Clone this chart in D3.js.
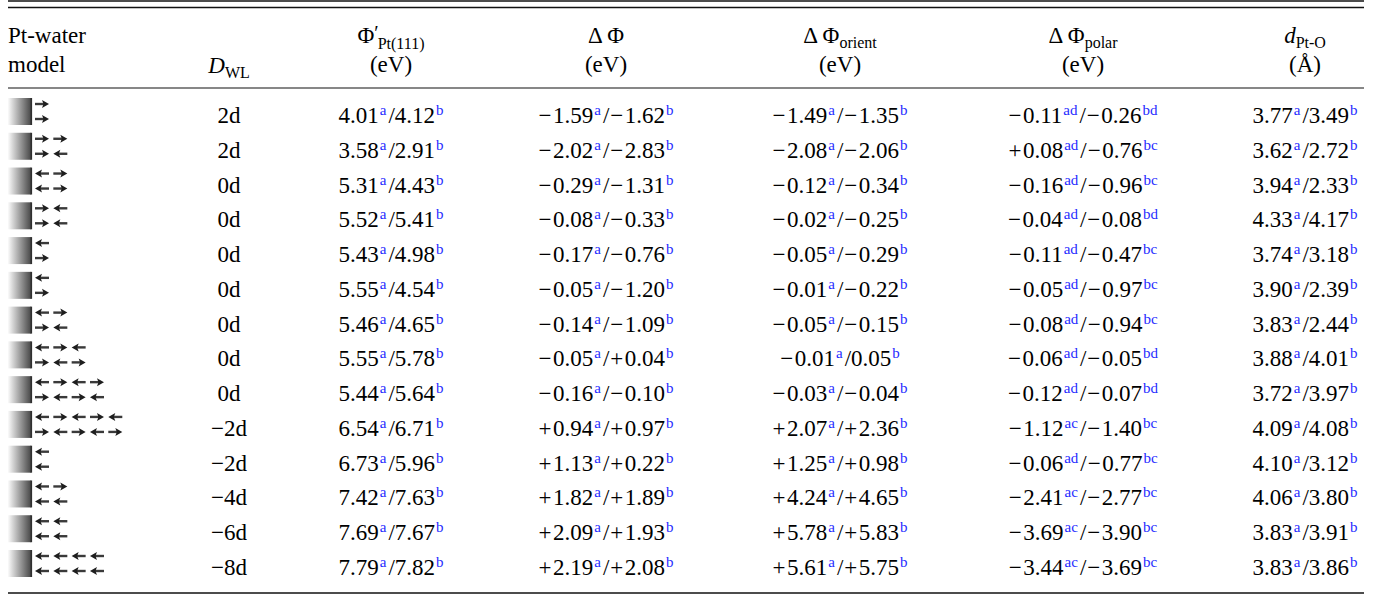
<!DOCTYPE html>
<html>
<head>
<meta charset="utf-8">
<script src="https://cdn.jsdelivr.net/npm/d3@7"></script>
<style>
  body { margin: 0; background: #fff; }
  svg text { font-family: "Liberation Serif", "Times New Roman", serif; fill: #000; }
</style>
</head>
<body>
<svg id="tbl" width="1378" height="595"></svg>
<script>
// ---- data ----
// arrow rows of each Pt-water model icon: 1 = right, -1 = left
const arrowsTop = [[1],[1,1],[-1,1],[1,-1],[-1],[-1],[-1,1],[-1,1,-1],[-1,1,-1,1],[-1,1,-1,1,-1],[-1],[-1,1],[-1,-1],[-1,-1,-1,-1]]
const arrowsBottom = [[1],[1,-1],[-1,1],[1,-1],[1],[1],[1,-1],[1,-1,1],[1,-1,1,-1],[1,-1,1,-1,1],[-1],[-1,-1],[-1,-1],[-1,-1,-1,-1]]
const dwl = ["2d","2d","0d","0d","0d","0d","0d","0d","0d","\u22122d","\u22122d","\u22124d","\u22126d","\u22128d"]
const phiA = [4.01,3.58,5.31,5.52,5.43,5.55,5.46,5.55,5.44,6.54,6.73,7.42,7.69,7.79]
const phiB = [4.12,2.91,4.43,5.41,4.98,4.54,4.65,5.78,5.64,6.71,5.96,7.63,7.67,7.82]
const dPhiA = [-1.59,-2.02,-0.29,-0.08,-0.17,-0.05,-0.14,-0.05,-0.16,0.94,1.13,1.82,2.09,2.19]
const dPhiB = [-1.62,-2.83,-1.31,-0.33,-0.76,-1.20,-1.09,0.04,-0.10,0.97,0.22,1.89,1.93,2.08]
const orientA = [-1.49,-2.08,-0.12,-0.02,-0.05,-0.01,-0.05,-0.01,-0.03,2.07,1.25,4.24,5.78,5.61]
const orientB = [-1.35,-2.06,-0.34,-0.25,-0.29,-0.22,-0.15,0.05,-0.04,2.36,0.98,4.65,5.83,5.75]
const orientUnsignedB = [7]
const polarA = [-0.11,0.08,-0.16,-0.04,-0.11,-0.05,-0.08,-0.06,-0.12,-1.12,-0.06,-2.41,-3.69,-3.44]
const polarB = [-0.26,-0.76,-0.96,-0.08,-0.47,-0.97,-0.94,-0.05,-0.07,-1.40,-0.77,-2.77,-3.90,-3.69]
const polarNoteA = ["ad","ad","ad","ad","ad","ad","ad","ad","ad","ac","ad","ac","ac","ac"]
const polarNoteB = ["bd","bc","bc","bd","bc","bc","bc","bd","bd","bc","bc","bc","bc","bc"]
const dPtOA = [3.77,3.62,3.94,4.33,3.74,3.90,3.83,3.88,3.72,4.09,4.10,4.06,3.83,3.83]
const dPtOB = [3.49,2.72,2.33,4.17,3.18,2.39,2.44,4.01,3.97,4.08,3.12,3.80,3.91,3.86]

const svg = d3.select("#tbl")
const FS = 23, SUB = 16, SUP = 15
const blue = "#1f2bff"
const nRows = dwl.length

const y = d3.scaleLinear().domain([0, nRows - 1]).range([123, 575])
const colX = d3.scaleOrdinal()
  .domain(["dwl","phi","dphi","orient","polar","dpto"])
  .range([229, 391, 606, 840, 1083, 1305])
const arrowX = d3.scaleLinear().domain([0, 4]).range([35, 108.3])

const fmt = d3.format(".2f"), fmtS = d3.format("+.2f")

// rules
const rules = [{y: 1, w: 1.3}, {y: 7.5, w: 1.3}, {y: 88, w: 1.1}, {y: 593, w: 1.3}]
svg.selectAll("line.rule").data(rules).join("line")
  .attr("class", "rule")
  .attr("x1", 8).attr("x2", 1364)
  .attr("y1", d => d.y).attr("y2", d => d.y)
  .attr("stroke", "#111").attr("stroke-width", d => d.w)

// header
function header(x, yy, parts, anchor) {
  const t = svg.append("text").attr("x", x).attr("y", yy)
    .attr("text-anchor", anchor || "middle").style("font-size", FS + "px")
  parts.forEach(p => {
    const s = t.append("tspan").text(p.t)
    if (p.size) s.style("font-size", p.size + "px")
    if (p.dy) s.attr("dy", p.dy)
    if (p.dx) s.attr("dx", p.dx)
    if (p.it) s.style("font-style", "italic")
  })
}
header(8, 43, [{t: "Pt-water"}], "start")
header(8, 72, [{t: "model"}], "start")
header(colX("dwl"), 73, [{t: "D", it: true}, {t: "WL", size: SUB, dy: 5}])
header(colX("phi"), 43, [{t: "\u03a6"}, {t: "\u2032", size: 20, dy: -3}, {t: "Pt(111)", size: SUB, dy: 9, dx: -1}])
header(colX("dphi"), 43, [{t: "\u0394\u2009\u03a6"}])
header(colX("orient"), 43, [{t: "\u0394\u2009\u03a6"}, {t: "orient", size: SUB, dy: 5}])
header(colX("polar"), 43, [{t: "\u0394\u2009\u03a6"}, {t: "polar", size: SUB, dy: 5}])
header(colX("dpto"), 43, [{t: "d", it: true}, {t: "Pt-O", size: SUB, dy: 5}])
;["phi","dphi","orient","polar"].forEach(k => header(colX(k), 72, [{t: "(eV)"}]))
header(colX("dpto"), 72, [{t: "(\u00c5)"}])

// gradient for the Pt slab
const grad = svg.append("defs").append("linearGradient").attr("id", "slab")
grad.append("stop").attr("offset", "0%").attr("stop-color", "#fbfbfb")
grad.append("stop").attr("offset", "100%").attr("stop-color", "#474747")

const rows = svg.selectAll("g.row").data(d3.range(nRows)).join("g")
  .attr("class", "row")
  .attr("transform", i => `translate(0,${y(i)})`)

// model icon
rows.append("rect").attr("x", 8).attr("y", -25).attr("width", 23).attr("height", 27)
  .attr("fill", "url(#slab)")
rows.append("rect").attr("x", 30.5).attr("y", -25).attr("width", 1.6).attr("height", 27)
  .attr("fill", "#2f2f2f")

function arrow(g, list, yy) {
  list.forEach((dir, j) => {
    const x0 = arrowX(j), x1 = x0 + 14
    const tip = dir > 0 ? x1 : x0, tail = dir > 0 ? x0 : x1
    g.append("line").attr("x1", tail).attr("x2", tip - dir * 4)
      .attr("y1", yy).attr("y2", yy).attr("stroke", "#3a3a3a").attr("stroke-width", 2.4)
    g.append("path")
      .attr("d", `M${tip},${yy} L${tip - dir * 7},${yy - 4} L${tip - dir * 5.5},${yy} L${tip - dir * 7},${yy + 4} Z`)
      .attr("fill", "#1e1e1e")
  })
}
rows.each(function (i) {
  const g = d3.select(this)
  arrow(g, arrowsTop[i], -19)
  arrow(g, arrowsBottom[i], -4)
})

// D_WL
rows.append("text").attr("x", colX("dwl")).attr("text-anchor", "middle")
  .style("font-size", FS + "px").text(i => dwl[i])

// a number with a math-style sign (slightly wider spacing after + / −)
function num(t, s, first) {
  const m = s.match(/^([+\u2212]?)(.*)$/)
  if (m[1]) {
    const sg = t.append("tspan").text(m[1])
    if (!first) sg.attr("dx", 1)
    t.append("tspan").text(m[2]).attr("dx", 1.5)
  } else {
    t.append("tspan").text(m[2])
  }
}

// value cells: a / b with blue footnote marks
function cell(key, va, vb, na, nb) {
  rows.each(function (i) {
    const t = d3.select(this).append("text").attr("x", colX(key))
      .attr("text-anchor", "middle").style("font-size", FS + "px")
    num(t, va(i), true)
    t.append("tspan").text(na(i)).attr("dy", -8).attr("dx", 1)
      .style("font-size", SUP + "px").style("fill", blue)
    t.append("tspan").text("/").attr("dy", 8).attr("dx", 2)
    num(t, vb(i), false)
    t.append("tspan").text(nb(i)).attr("dy", -8).attr("dx", 1)
      .style("font-size", SUP + "px").style("fill", blue)
  })
}
cell("phi", i => fmt(phiA[i]), i => fmt(phiB[i]), () => "a", () => "b")
cell("dphi", i => fmtS(dPhiA[i]), i => fmtS(dPhiB[i]), () => "a", () => "b")
cell("orient", i => fmtS(orientA[i]),
  i => orientUnsignedB.includes(i) ? fmt(orientB[i]) : fmtS(orientB[i]), () => "a", () => "b")
cell("polar", i => fmtS(polarA[i]), i => fmtS(polarB[i]), i => polarNoteA[i], i => polarNoteB[i])
cell("dpto", i => fmt(dPtOA[i]), i => fmt(dPtOB[i]), () => "a", () => "b")
</script>
</body>
</html>
